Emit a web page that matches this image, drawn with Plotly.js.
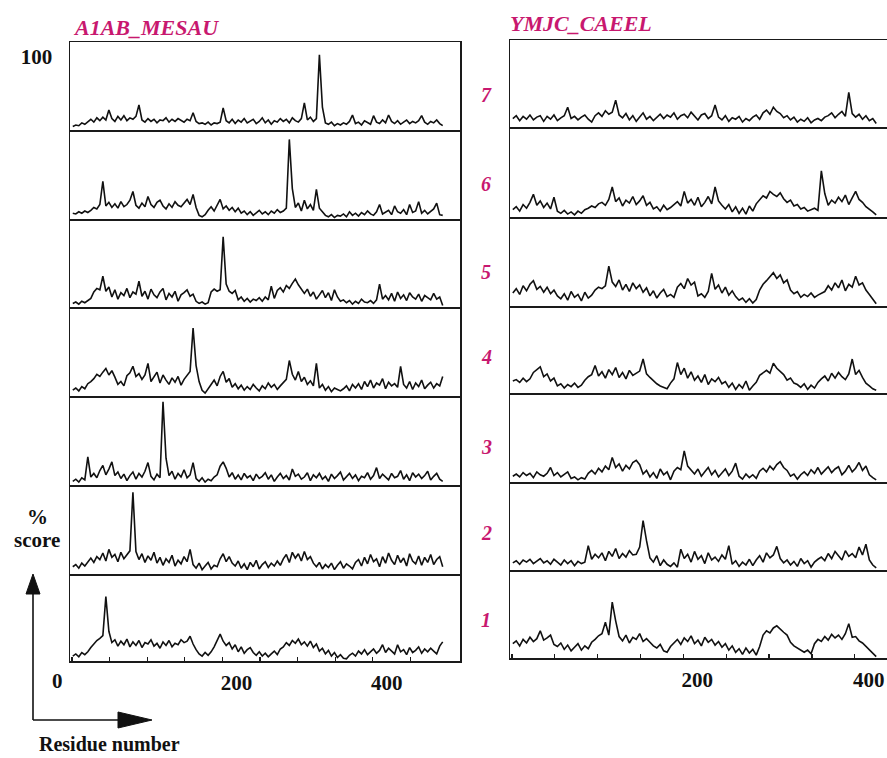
<!DOCTYPE html>
<html><head><meta charset="utf-8">
<script src="https://cdn.plot.ly/plotly-3.0.1.min.js"></script>
<style>html,body{margin:0;padding:0;background:#fff}#chart{width:887px;height:758px}</style>
</head><body><div id="chart"></div>
<script>
// ---------- text ----------
const leftTitle = 'A1AB_MESAU';
const rightTitle = 'YMJC_CAEEL';
const panelLabels = ['1','2','3','4','5','6','7'];
const xTickVals = [0,50,100,150,200,250,300,350,400,450];
const xTickText = ['','','','','200','','','','400',''];
const originLabel = '0';
const yTickVals = [100];
const yTickText = ['100'];
const yAxisLabel = ['%','score'];
const xAxisLabel = 'Residue number';

// ---------- % score, sampled every 4 residues (residue 1,5,9,...) ----------
// A1AB_MESAU, panels 1 (bottom) .. 7 (top)
const left1 = [5,8,4,10,7,11,17,22,27,30, 34,89,40,24,28,19,26,21,29,18, 25,20,27,17,24,22,28,19,23,16,
 25,20,27,18,23,21,28,24,26,33, 22,14,8,5,10,6,11,18,27,36, 26,20,24,15,21,11,18,9,14,17,
 10,6,11,5,9,4,8,12,7,15, 18,24,20,27,23,29,21,25,19,26, 17,22,12,16,8,13,5,10,3,7,
 2,1,6,9,5,12,8,14,7,11, 15,9,13,21,10,16,12,8,21,11, 14,7,17,10,13,18,9,15,11,16, 12,8,19,25];
const left2 = [8,11,6,13,9,15,20,14,22,18, 27,16,32,21,25,15,28,19,24,30, 111,29,18,26,14,23,17,28,13,21,
 10,19,14,24,9,17,12,22,15,32, 11,6,13,4,9,14,5,10,8,19, 26,15,22,13,9,16,6,12,4,14,
 8,17,5,11,15,7,13,9,16,10, 19,25,14,28,20,26,16,29,18,22, 13,8,14,5,11,7,13,4,10,15,
 6,12,9,5,14,18,9,21,12,25, 15,19,8,22,13,27,17,11,24,14, 20,9,26,16,12,23,10,21,14,25, 11,18,22,8];
const left3 = [3,6,2,8,5,37,9,14,8,18, 25,12,20,30,11,16,7,13,4,11, 16,6,14,9,17,29,10,5,13,8,
 113,35,11,17,6,14,9,19,8,12, 29,7,3,8,2,6,4,9,12,24, 30,21,9,15,6,12,5,14,8,11,
 4,13,7,10,15,6,12,3,9,14, 7,11,5,20,10,13,6,9,15,4, 12,8,14,6,10,3,13,7,11,16,
 5,9,14,7,12,4,10,8,15,6, 11,22,7,13,9,5,14,8,10,18, 6,12,4,15,9,13,7,11,17,5, 10,14,6,3];
const left4 = [6,9,5,11,8,15,18,22,28,25, 31,36,27,33,24,14,18,12,26,30, 39,25,29,21,27,43,18,24,31,16,
 27,20,14,23,17,25,13,21,26,32, 92,40,18,6,2,9,14,20,12,25, 32,17,22,10,15,8,13,6,11,7,
 14,9,5,12,8,16,10,14,7,12, 17,21,47,28,20,32,18,24,14,19, 12,43,9,14,6,11,4,9,7,5,
 8,12,5,14,9,15,7,18,11,20, 9,16,13,22,8,17,12,15,10,39, 14,9,18,7,16,11,20,8,13,17, 9,15,12,25];
const left5 = [3,5,2,6,4,7,10,19,24,22, 41,20,26,12,22,9,18,14,24,11, 19,16,34,13,20,9,23,15,11,19,
 24,8,17,12,20,6,15,18,22,13, 16,6,3,5,2,4,19,23,20,22, 96,30,20,17,21,8,12,6,10,5,
 9,7,11,6,12,8,27,10,21,25, 19,28,24,31,37,29,22,17,23,13, 19,9,15,21,11,18,7,22,12,6,
 8,4,7,2,6,3,9,5,4,7, 3,8,30,9,14,8,17,6,19,10, 15,7,18,12,9,16,6,14,11,8, 17,9,12,0];
const left6 = [6,5,8,6,9,7,10,14,12,18, 50,16,21,14,19,13,22,15,18,24, 36,17,13,20,15,29,18,14,21,24,
 16,12,19,14,22,17,15,20,25,18, 32,14,3,1,4,10,15,9,17,25, 12,16,10,14,8,13,6,9,4,8,
 3,7,10,5,8,4,9,6,11,7, 9,13,108,40,14,20,9,24,12,18, 10,39,13,8,3,1,4,0,3,2,
 5,1,8,3,6,2,7,4,9,5, 3,8,18,5,7,10,4,16,8,6, 11,4,18,7,9,22,6,10,5,8, 12,20,4,3];
const left7 = [3,5,4,8,6,10,13,9,15,11, 16,12,26,14,10,17,12,18,11,15, 13,17,33,12,9,14,10,13,8,12,
 11,15,9,13,10,14,12,9,13,11, 22,10,7,8,6,9,5,8,7,9, 29,11,8,13,7,12,9,14,8,11,
 13,7,10,15,8,12,6,11,9,14, 10,13,8,15,11,9,14,36,12,16, 10,14,103,30,8,6,9,4,7,5,
 8,6,10,19,7,9,5,11,8,6, 18,9,7,12,8,19,10,7,11,6, 9,12,7,10,8,11,18,9,6,10, 8,12,7,4];

// YMJC_CAEEL, panels 1 (bottom) .. 7 (top)
const right1 = [18,22,15,24,19,27,21,25,36,23, 26,30,17,14,19,10,16,8,13,18, 9,15,11,20,24,29,32,48,30,76,
 50,28,22,30,19,27,24,32,21,25, 20,15,12,17,8,6,14,19,24,17, 26,21,29,18,23,15,27,20,24,16,
 21,13,18,9,15,6,11,3,12,5, 10,2,14,30,36,33,40,43,38,34, 30,20,15,12,10,6,9,4,18,24,
 21,28,23,31,26,30,24,32,46,27, 28,22,19,14,10,5,0];
const right2 = [8,11,6,12,9,13,7,10,14,8, 11,6,13,9,5,12,7,11,4,10, 7,9,32,13,20,15,22,11,24,17,
 28,14,21,16,25,19,20,30,67,39, 15,9,18,4,12,6,3,8,2,27, 14,20,9,24,13,18,7,22,12,16,
 10,19,13,32,6,11,3,9,5,13, 4,12,18,9,22,15,19,31,14,8, 12,5,10,3,14,7,11,2,9,13,
 16,11,21,14,24,18,12,25,17,21, 15,30,19,34,12,5,1];
const right3 = [6,9,5,11,7,10,4,12,8,6, 10,18,7,11,5,9,12,3,5,1, 4,2,10,14,9,17,12,20,15,32,
 18,23,13,21,16,25,28,22,9,14, 5,11,3,16,8,12,1,13,18,15, 41,20,14,9,16,6,12,18,8,14,
 5,11,16,7,13,24,6,2,9,4, 8,3,13,17,12,20,15,22,26,18, 14,6,9,2,8,12,7,15,10,18,
 9,14,19,11,16,19,8,13,21,12, 17,25,14,20,8,4,1];
const right4 = [15,17,13,19,14,18,27,31,35,21, 25,15,19,8,11,5,10,7,12,6, 9,16,21,24,37,22,28,19,31,24,
 34,20,27,18,30,23,26,29,46,25, 20,15,11,8,6,4,12,18,41,24, 33,19,28,16,22,13,24,10,18,14,
 20,11,14,6,12,3,10,5,15,2, 8,13,23,27,30,26,40,33,29,24, 16,19,12,10,6,11,3,9,5,13,
 18,22,15,26,19,27,21,17,25,46, 24,30,20,12,8,4,2];
const right5 = [16,22,14,26,19,28,33,21,25,17, 24,15,20,12,8,15,6,18,10,14, 5,17,9,13,20,24,22,26,53,31,
 25,34,20,28,18,30,22,27,17,23, 12,19,9,16,21,11,14,10,24,29, 22,36,27,31,12,15,10,18,43,21,
 27,16,24,13,19,11,6,9,3,8, 2,7,20,28,33,38,44,36,41,30, 34,20,15,18,10,14,11,16,10,13,
 15,18,26,20,30,23,34,19,28,24, 39,27,30,20,14,7,1];
const right6 = [8,12,6,15,10,18,29,14,20,11, 17,9,25,6,3,7,2,5,1,6, 3,8,10,13,11,16,18,14,22,39,
 19,24,13,21,17,26,15,20,27,14, 18,9,12,6,14,8,11,15,19,13, 33,17,22,14,25,12,18,26,16,39,
 20,14,9,15,5,12,3,10,2,13, 6,16,22,27,24,33,29,26,31,23, 18,21,13,15,9,11,6,8,10,7,
 61,30,14,21,17,25,19,28,15,24, 33,22,18,12,9,5,1];
const right7 = [10,14,7,13,9,15,8,12,14,6, 13,9,15,7,11,14,26,10,13,8, 12,15,9,5,14,18,13,21,16,19,
 36,15,11,17,8,14,6,12,18,9, 13,7,11,16,10,15,12,18,9,14, 16,11,19,13,8,15,17,10,14,29,
 12,8,14,6,11,9,13,5,10,7, 12,15,9,18,22,16,26,20,17,11, 14,8,12,5,9,6,11,4,8,10,
 7,12,14,18,11,16,20,13,47,17, 12,16,9,14,7,10,3];

const leftSeries = [left1,left2,left3,left4,left5,left6,left7];
const rightSeries = [right1,right2,right3,right4,right5,right6,right7];

// ---------- layout geometry (pixels) ----------
const W = 887, H = 758;
const px = v => v / W, py = v => 1 - v / H;
const leftBounds = [42,130,219,307,396,485,574,661];   // top -> bottom
const rightBounds = [40,127,217,306,393,482,570,658];
const magenta = '#c8186f';
const serif = 'Liberation Serif, Times New Roman, serif';

const traces = [];
const layout = {
  width: W, height: H, margin: {l:0, r:0, t:0, b:0},
  paper_bgcolor: '#fff', plot_bgcolor: 'rgba(0,0,0,0)',
  showlegend: false, annotations: [], shapes: []
};

function axName(n){ return n === 1 ? '' : String(n); }
const blackFont = {family: serif, size: 21, color: '#111', weight: 'bold'};

function addPanel(vals, n, k, side){
  const bounds = side === 'L' ? leftBounds : rightBounds;
  const top = bounds[7 - k], bot = bounds[8 - k];
  traces.push({
    x: vals.map((_, i) => 1 + 4 * i), y: vals,
    xaxis: 'x' + axName(n), yaxis: 'y' + axName(n),
    type: 'scatter', mode: 'lines',
    line: {color: '#111', width: 1.6}, hoverinfo: 'skip'
  });
  const isBottom = k === 1;
  layout['xaxis' + axName(n)] = {
    domain: side === 'L' ? [px(70), px(460)] : [px(510), 1],
    range: side === 'L' ? [-2.7, 516] : [-2.3, 437.6],
    anchor: 'y' + axName(n),
    showline: true, mirror: k === 7, linecolor: '#1a1a1a', linewidth: 1.5,
    showgrid: false, zeroline: false,
    ticks: isBottom ? 'inside' : '', ticklen: 4, tickwidth: 1.2, tickcolor: '#1a1a1a',
    tickmode: 'array', tickvals: xTickVals, ticktext: xTickText,
    showticklabels: isBottom,
    tickfont: blackFont,
    ticklabelshift: 14, ticklabelstandoff: 2,
    fixedrange: true
  };
  const showY = side === 'L' && k === 7;
  layout['yaxis' + axName(n)] = {
    domain: [py(bot), py(top)],
    range: [-2, 121],
    anchor: 'x' + axName(n),
    showline: true, mirror: side === 'L', linecolor: '#1a1a1a', linewidth: 1.5,
    showgrid: false, zeroline: false, ticks: '',
    tickmode: 'array', tickvals: yTickVals, ticktext: yTickText,
    showticklabels: showY,
    tickfont: blackFont,
    ticklabelstandoff: 12,
    fixedrange: true
  };
}

for (let k = 1; k <= 7; k++) addPanel(leftSeries[k-1], k, k, 'L');
for (let k = 1; k <= 7; k++) addPanel(rightSeries[k-1], 7 + k, k, 'R');

// ---------- annotations ----------
function ann(text, x, y, font, extra){
  layout.annotations.push(Object.assign({
    text: text, xref: 'paper', yref: 'paper', x: px(x), y: py(y),
    xanchor: 'center', yanchor: 'middle', showarrow: false, font: font
  }, extra || {}));
}
const titleFont = {family: serif, size: 22, color: magenta, weight: 'bold', style: 'italic'};
ann(leftTitle, 146, 27, titleFont);
ann(rightTitle, 581, 23, titleFont);

const numberY = [620, 533, 447, 357, 272, 184, 95];
panelLabels.forEach((t, i) => ann(t, 486, numberY[i], {family: serif, size: 20, color: magenta, weight: 'bold', style: 'italic'}));

ann(yAxisLabel[0], 37, 517, blackFont);
ann(yAxisLabel[1], 37, 540, blackFont);
ann(xAxisLabel, 109, 744, {family: serif, size: 20, color: '#111', weight: 'bold'});
layout.annotations.push({
  text: originLabel, xref: 'x', yref: 'paper', x: 0, y: py(681), xshift: -15,
  xanchor: 'center', yanchor: 'middle', showarrow: false, font: blackFont
});

// ---------- arrows (decoration) ----------
const lineStyle = {color: '#111', width: 1.6};
layout.shapes.push({type: 'line', xref: 'paper', yref: 'paper', x0: px(33), y0: py(720), x1: px(33), y1: py(590), line: lineStyle});
layout.shapes.push({type: 'line', xref: 'paper', yref: 'paper', x0: px(33), y0: py(720), x1: px(120), y1: py(720), line: lineStyle});
function tri(pts){
  return 'M ' + pts.map(p => px(p[0]) + ',' + py(p[1])).join(' L ') + ' Z';
}
layout.shapes.push({type: 'path', xref: 'paper', yref: 'paper', path: tri([[33,574],[26,594],[40,594]]), fillcolor: '#111', line: {color: '#111', width: 1}});
layout.shapes.push({type: 'path', xref: 'paper', yref: 'paper', path: tri([[152,720],[118,712],[118,728]]), fillcolor: '#111', line: {color: '#111', width: 1}});

Plotly.newPlot('chart', traces, layout, {displayModeBar: false, staticPlot: true});
</script>
</body></html>
